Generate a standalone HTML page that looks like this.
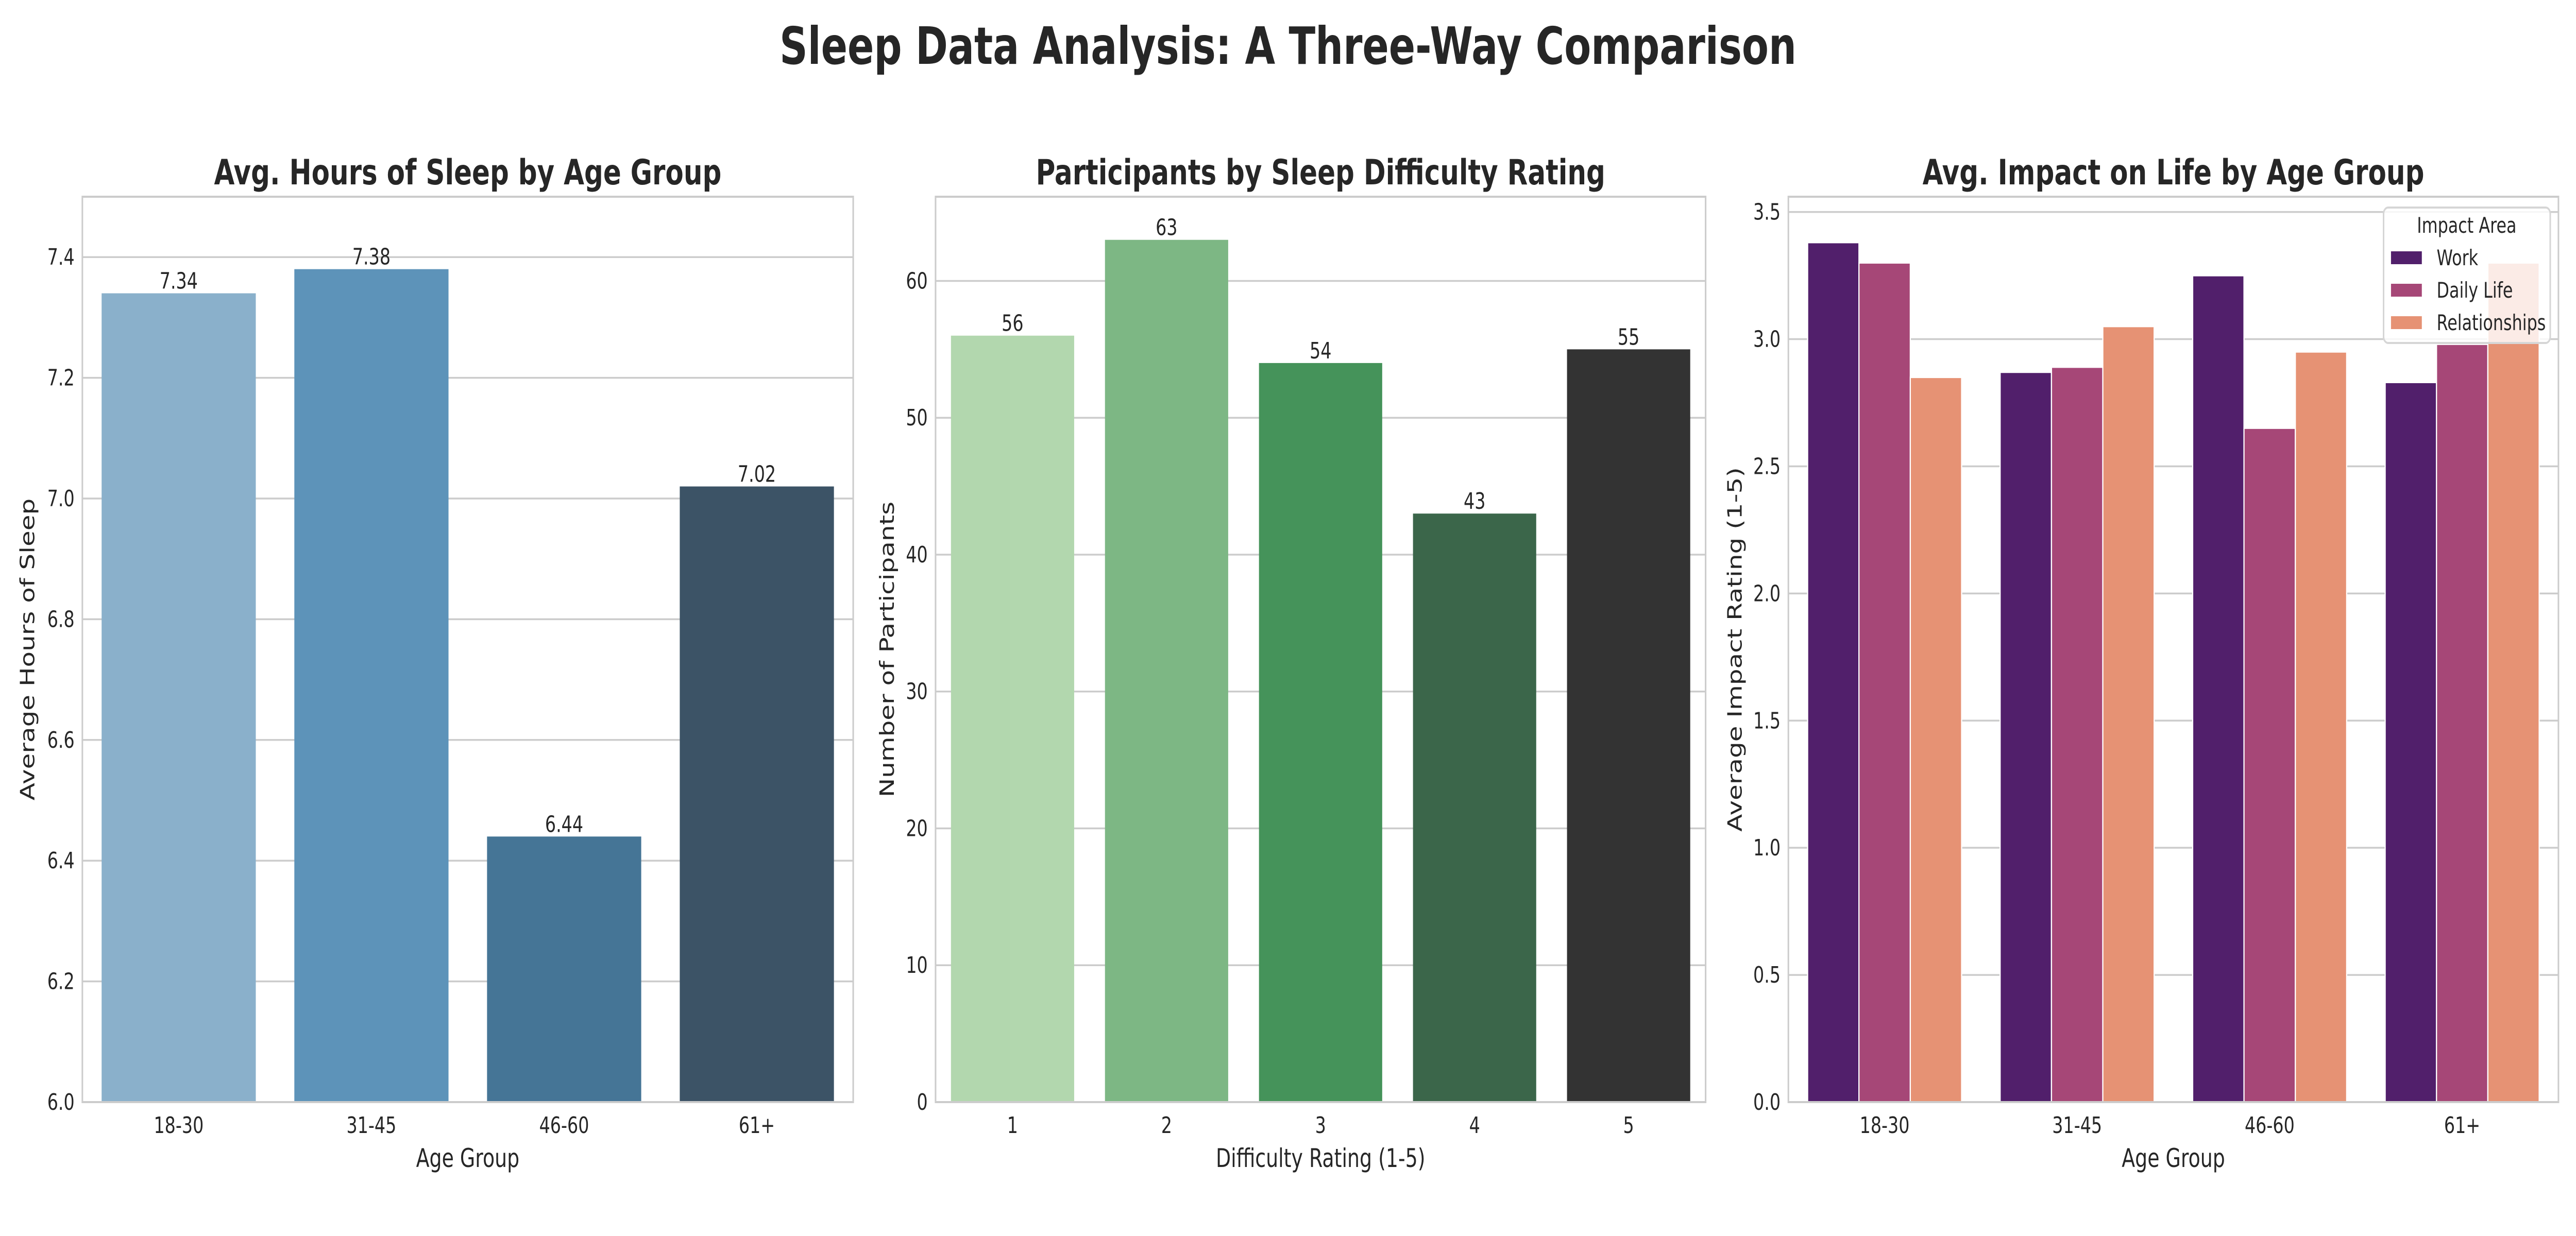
<!DOCTYPE html>
<html><head><meta charset="utf-8"><style>
html,body{margin:0;padding:0;background:#fff;width:100%;height:100%;overflow:hidden;}
#fig{display:block;width:100vw;height:100vh;}
svg text{font-family:"DejaVu Sans","Liberation Sans",sans-serif;fill:#262626;}
</style></head><body>
<svg id="fig" viewBox="0 0 6600 2400" preserveAspectRatio="none" xmlns="http://www.w3.org/2000/svg">
<rect width="6600" height="2400" fill="#fff"/>
<text x="3300" y="124" text-anchor="middle" font-size="100" font-weight="bold">Sleep Data Analysis: A Three-Way Comparison</text>
</svg>
<script>
// Panel 1 data
const ageGroups = ["18-30","31-45","46-60","61+"];
const sleepHours = [7.34, 7.38, 6.44, 7.02];
const sleepTicks = [6.0,6.2,6.4,6.6,6.8,7.0,7.2,7.4];
// Panel 2 data
const difficultyRatings = ["1","2","3","4","5"];
const participantCounts = [56, 63, 54, 43, 55];
const countTicks = [0,10,20,30,40,50,60];
// Panel 3 data
const impactAreas = ["Work","Daily Life","Relationships"];
const impactWork = [3.38, 2.87, 3.25, 2.83];
const impactDaily = [3.30, 2.89, 2.65, 2.98];
const impactRelationships = [2.85, 3.05, 2.95, 3.30];
const impactTicks = [0.0,0.5,1.0,1.5,2.0,2.5,3.0,3.5];

const NS="http://www.w3.org/2000/svg";
const svg=document.getElementById('fig');
function mk(tag,attrs,parent){const e=document.createElementNS(NS,tag);for(const k in attrs)e.setAttribute(k,attrs[k]);(parent||svg).appendChild(e);return e;}

const TOP=382,BOT=2140;
function panel(o){
  const g=mk('g',{});
  
  
  const yS=v=>BOT-(v-o.ymin)/(o.ymax-o.ymin)*(BOT-TOP);
  const n=o.cats.length;
  const xS=i=>o.x0+(i+0.5)/n*(o.x1-o.x0);
  const band=(o.x1-o.x0)/n;
  o.ticks.forEach((t,i)=>{
    const y=yS(t);
    const gl=mk('line',{x1:o.x0,x2:o.x1,y1:y,y2:y,stroke:'#cccccc','stroke-width':3.5},g);
    
    
    const tl=mk('text',{x:o.x0-20,y:y+15,'text-anchor':'end','font-size':44},g);
    tl.textContent=o.tickFmt(t);
    
    
  });
  o.cats.forEach((c,i)=>{
    const t=mk('text',{x:xS(i),y:2200,'text-anchor':'middle','font-size':44},g);
    t.textContent=c;
    
    
  });
  return {g,yS,xS,band};
}
function frame(g,o){
  const r=mk('rect',{x:o.x0,y:TOP,width:o.x1-o.x0,height:BOT-TOP,fill:'none',stroke:'#cccccc','stroke-width':4},g);
  
  
  const t=mk('text',{x:(o.x0+o.x1)/2,y:358,'text-anchor':'middle','font-size':68,'font-weight':'bold'},g);
  t.textContent=o.title;
  
  
  const xl=mk('text',{x:(o.x0+o.x1)/2,y:2266,'text-anchor':'middle','font-size':50},g);
  xl.textContent=o.xlabel;
  
  
  const yl=mk('text',{x:0,y:0,'text-anchor':'middle','font-size':50,transform:`translate(${o.ylx},${(TOP+BOT)/2}) rotate(-90)`},g);
  yl.textContent=o.ylabel;
  
  
}

// Panel 1
(function(){
  const o={name:'sleep-hours-chart',x0:211,x1:2186,ymin:6.0,ymax:7.5,cats:ageGroups,ticks:sleepTicks,tickFmt:t=>t.toFixed(1),
    title:'Avg. Hours of Sleep by Age Group',xlabel:'Age Group',ylabel:'Average Hours of Sleep',ylx:88};
  const p=panel(o);
  const cols=['#8ab0cb','#5d93b9','#457596','#3c5366'];
  sleepHours.forEach((v,i)=>{
    const w=p.band*0.8,x=p.xS(i)-w/2,y=p.yS(v);
    const b=mk('rect',{x:x,y:y,width:w,height:BOT-y,fill:cols[i%cols.length]},p.g);
    
    
    const t=mk('text',{x:p.xS(i),y:y-9,'text-anchor':'middle','font-size':44},p.g);
    t.textContent=v.toFixed(2);
    
    
  });
  frame(p.g,o);
})();

// Panel 2
(function(){
  const o={name:'difficulty-chart',x0:2397,x1:4370,ymin:0,ymax:66.15,cats:difficultyRatings,ticks:countTicks,tickFmt:t=>String(t),
    title:'Participants by Sleep Difficulty Rating',xlabel:'Difficulty Rating (1-5)',ylabel:'Number of Participants',ylx:2290};
  const p=panel(o);
  const cols=['#b2d7ae','#7db784','#45935a','#3b664a','#333333'];
  participantCounts.forEach((v,i)=>{
    const w=p.band*0.8,x=p.xS(i)-w/2,y=p.yS(v);
    const b=mk('rect',{x:x,y:y,width:w,height:BOT-y,fill:cols[i%cols.length]},p.g);
    
    
    const t=mk('text',{x:p.xS(i),y:y-9,'text-anchor':'middle','font-size':44},p.g);
    t.textContent=String(v);
    
    
  });
  frame(p.g,o);
})();

// Panel 3
(function(){
  const o={name:'impact-chart',x0:4582,x1:6555,ymin:0,ymax:3.56,cats:ageGroups,ticks:impactTicks,tickFmt:t=>t.toFixed(1),
    title:'Avg. Impact on Life by Age Group',xlabel:'Age Group',ylabel:'Average Impact Rating (1-5)',ylx:4462};
  const p=panel(o);
  const cols=['#511f6b','#a64777','#e69274'];
  const series=[impactWork,impactDaily,impactRelationships];
  const bw=p.band*0.8/3;
  series.forEach((s,k)=>{
    s.forEach((v,i)=>{
      const x=p.xS(i)-p.band*0.4+k*bw,y=p.yS(v);
      const b=mk('rect',{x:x,y:y,width:bw,height:BOT-y,fill:cols[k],stroke:'#fff','stroke-width':3},p.g);
      
      
    });
  });
  frame(p.g,o);
  const lg=mk('g',{},p.g);
  
  
  const lr=mk('rect',{x:6107,y:403,width:427,height:263,rx:12,fill:'#fff','fill-opacity':0.82,stroke:'#d6d6d6','stroke-width':4},lg);
  
  
  const lt=mk('text',{x:6320,y:452,'text-anchor':'middle','font-size':42},lg);
  lt.textContent='Impact Area';
  
  
  impactAreas.forEach((a,k)=>{
    const y0=488+k*63;
    const sw=mk('rect',{x:6126,y:y0,width:79,height:25,fill:cols[k]},lg);
    
    
    const t=mk('text',{x:6243,y:y0+27,'font-size':42},lg);
    t.textContent=a;
    
    
  });
})();
</script>
</body></html>
